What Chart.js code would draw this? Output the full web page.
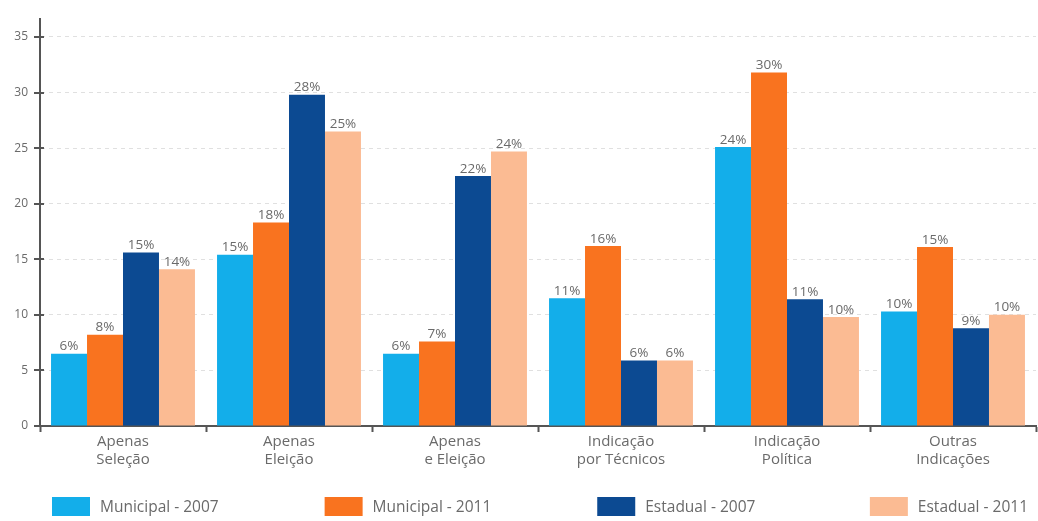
<!DOCTYPE html>
<html>
<head>
<meta charset="utf-8">
<script src="https://cdn.jsdelivr.net/npm/chart.js@4.4.1/dist/chart.umd.min.js"></script>
<style>
html,body{margin:0;padding:0;background:#fff;}
#wrap{width:1038px;height:521px;position:relative;}
</style>
</head>
<body>
<div id="wrap"><canvas id="c" width="1038" height="521"></canvas></div>
<script>
const categories = [["Apenas","Seleção"],["Apenas","Eleição"],["Apenas","e Eleição"],["Indicação","por Técnicos"],["Indicação","Política"],["Outras","Indicações"]];
const seriesNames = ["Municipal - 2007","Municipal - 2011","Estadual - 2007","Estadual - 2011"];
const mun2007 = [6.5, 15.4, 6.5, 11.5, 25.1, 10.3];
const mun2011 = [8.2, 18.3, 7.6, 16.2, 31.8, 16.1];
const est2007 = [15.6, 29.8, 22.5, 5.9, 11.4, 8.8];
const est2011 = [14.1, 26.5, 24.7, 5.9, 9.8, 10.0];
const mun2007Labels = ["6%","15%","6%","11%","24%","10%"];
const mun2011Labels = ["8%","18%","7%","16%","30%","15%"];
const est2007Labels = ["15%","28%","22%","6%","11%","9%"];
const est2011Labels = ["14%","25%","24%","6%","10%","10%"];
const yTicks = [0,5,10,15,20,25,30,35];

const colors = ["#13AEEA","#F9731F","#0C4A92","#FBBB93"];
const FONT = "'Open Sans', sans-serif";
const TEXT = "#6a6a6a";

const seriesValues = [mun2007, mun2011, est2007, est2011];
const seriesLabels = [mun2007Labels, mun2011Labels, est2007Labels, est2011Labels];

const valueLabels = {
  id: 'valueLabels',
  afterDatasetsDraw(chart) {
    const ctx = chart.ctx;
    ctx.save();
    ctx.font = "13.5px " + FONT;
    ctx.fillStyle = TEXT;
    ctx.textAlign = 'center';
    ctx.textBaseline = 'bottom';
    chart.data.datasets.forEach((ds, di) => {
      const meta = chart.getDatasetMeta(di);
      meta.data.forEach((bar, i) => {
        ctx.fillText(seriesLabels[di][i], bar.x, bar.y - 0.5);
      });
    });
    ctx.restore();
  }
};

const customLegend = {
  id: 'customLegend',
  afterDraw(chart) {
    const ctx = chart.ctx;
    const area = chart.chartArea;
    ctx.save();
    ctx.font = "15.5px " + FONT;
    const boxW = 38, boxH = 19, gap = 10;
    const top = 497;
    const left = area.left + 12;
    const lastW = boxW + gap + ctx.measureText(seriesNames[3]).width;
    const step = (area.right - 8 - left - lastW) / 3;
    seriesNames.forEach((name, i) => {
      const x = left + i * step;
      ctx.fillStyle = colors[i];
      ctx.fillRect(x, top, boxW, boxH);
      ctx.fillStyle = TEXT;
      ctx.textAlign = 'left';
      ctx.textBaseline = 'middle';
      ctx.fillText(name, x + boxW + gap, top + 11);
    });
    ctx.restore();
  }
};

const yTickMarks = {
  id: 'yTickMarks',
  afterDraw(chart) {
    const ctx = chart.ctx;
    const y = chart.scales.y;
    const x0 = chart.chartArea.left;
    ctx.save();
    ctx.strokeStyle = "#555";
    ctx.lineWidth = 2;
    yTicks.forEach(v => {
      const py = Math.round(y.getPixelForValue(v));
      ctx.beginPath();
      ctx.moveTo(x0 - 6, py);
      ctx.lineTo(x0 + 4, py);
      ctx.stroke();
    });
    ctx.restore();
  }
};

new Chart(document.getElementById('c'), {
  type: 'bar',
  data: {
    labels: categories,
    datasets: seriesNames.map((n, i) => ({
      label: n,
      data: seriesValues[i],
      backgroundColor: colors[i],
      borderWidth: 0,
      categoryPercentage: 0.867,
      barPercentage: 1.0
    }))
  },
  options: {
    responsive: false,
    animation: false,
    devicePixelRatio: 1,
    layout: { padding: { top: 9, right: 2, bottom: 51, left: 0 } },
    plugins: { legend: { display: false }, tooltip: { enabled: false } },
    scales: {
      x: {
        grid: { display: true, offset: true, drawOnChartArea: false, drawTicks: true, tickLength: 6, tickColor: "#555", tickWidth: 2, color: "#555" },
        border: { display: true, color: "#555", width: 2 },
        ticks: { color: TEXT, font: { family: FONT, size: 15, lineHeight: 1.2 }, padding: 1, maxRotation: 0, autoSkip: false }
      },
      y: {
        min: 0,
        max: 36.6,
        afterBuildTicks(scale) { scale.ticks = yTicks.map(v => ({ value: v })); },
        afterFit(scale) { scale.width = 40; },
        grid: {
          color: (ctx) => ctx.tick && ctx.tick.value === 0 ? 'rgba(0,0,0,0)' : "#e0e0e0",
          lineWidth: 1,
          drawTicks: false
        },
        border: { display: true, color: "#555", width: 2, dash: [4, 4] },
        ticks: { color: TEXT, font: { family: FONT, size: 12 }, padding: 12, callback: (v) => v }
      }
    }
  },
  plugins: [valueLabels, customLegend, yTickMarks]
});
</script>
</body>
</html>
